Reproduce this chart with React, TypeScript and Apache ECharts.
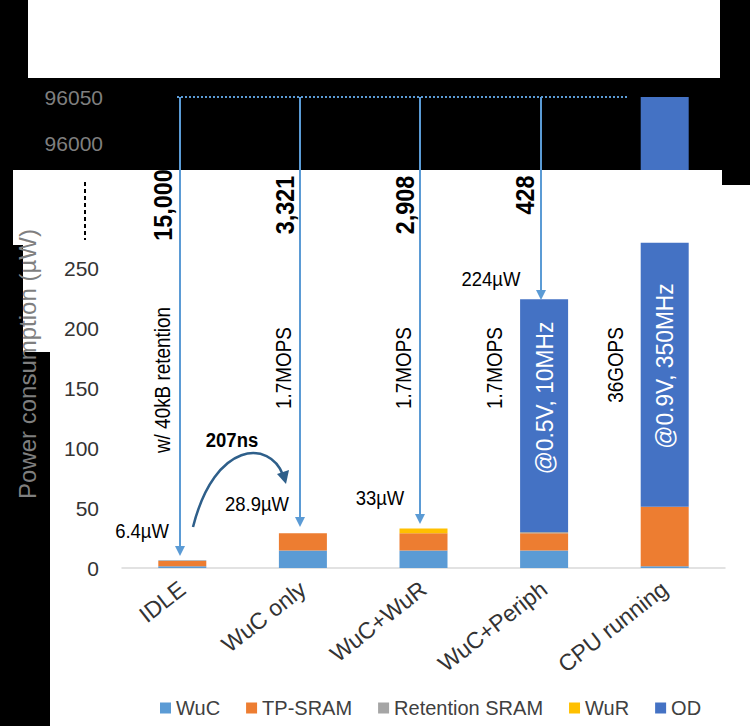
import { useRef, useEffect } from 'react';
import * as echarts from 'echarts';

const categories = ['IDLE', 'WuC only', 'WuC+WuR', 'WuC+Periph', 'CPU running'];
const wucValues = [1.5, 14.5, 14.5, 14.5, 1.5];
const tpSramValues = [4.4, 14.4, 14.4, 14.5, 49.5];
const retentionValues = [0.5, 0, 0, 1, 0];
const wurValues = [0, 0, 4.1, 0, 0];
const odValues = [0, 0, 0, 194, 220];
const odTopValues = [null, null, null, null, 96050];

const FONT = '"Liberation Sans", Arial, sans-serif';
const C = { wuc: '#5B9BD5', tp: '#ED7D31', ret: '#A5A5A5', wur: '#FFC000', od: '#4472C4' };

const vText = (x: number, y: number, text: string, opts: any = {}) => ({
  type: 'text',
  x,
  y,
  rotation: Math.PI / 2,
  scaleX: opts.scale || 0.9,
  z: 20,
  style: {
    text,
    fill: opts.fill || '#000',
    font: `${opts.bold ? 'bold ' : ''}${opts.size || 20}px ${FONT}`,
    align: 'center',
    verticalAlign: 'middle',
  },
});

const hText = (x: number, y: number, text: string, opts: any = {}) => ({
  type: 'text',
  x,
  y,
  scaleX: 0.88,
  z: 20,
  style: {
    text,
    fill: '#000',
    font: `${opts.bold ? 'bold ' : ''}${opts.size || 21}px ${FONT}`,
    align: 'center',
    verticalAlign: 'middle',
  },
});

const arrow = (x: number, y1: number, y2: number) => [
  { type: 'line', z: 20, shape: { x1: x, y1, x2: x, y2: y2 - 8 }, style: { stroke: C.wuc, lineWidth: 2 } },
  { type: 'polygon', z: 20, shape: { points: [[x - 5, y2 - 10], [x + 5, y2 - 10], [x, y2]] }, style: { fill: C.wuc } },
];

export default function App() {
  const chartRef = useRef<HTMLDivElement>(null);

  useEffect(() => {
    if (!chartRef.current) return;
    const chart = echarts.init(chartRef.current, undefined, { renderer: 'svg' });

    const bar = (name: string, data: any[], color: string) => ({
      name,
      type: 'bar',
      stack: 'total',
      barWidth: 48,
      data,
      z: 10,
      itemStyle: { color },
      xAxisIndex: 0,
      yAxisIndex: 0,
    });

    chart.setOption({
      animation: false,
      backgroundColor: '#000',
      grid: [
        { left: 122, right: 25, top: 232, bottom: 158 },
        { left: 122, right: 25, top: 97, height: 92 },
      ],
      xAxis: [
        {
          type: 'category',
          data: categories,
          gridIndex: 0,
          axisLine: { lineStyle: { color: '#d9d9d9', width: 1.5 } },
          axisTick: { show: false },
          axisLabel: { rotate: 38, fontSize: 23, color: '#333', fontFamily: FONT, margin: 18 },
        },
        { type: 'category', data: categories, gridIndex: 1, show: false },
      ],
      yAxis: [
        {
          type: 'value',
          gridIndex: 0,
          min: 0,
          max: 280,
          interval: 50,
          axisLabel: { showMaxLabel: false, fontSize: 21, color: '#333', fontFamily: FONT, margin: 23 },
          splitLine: { show: false },
        },
        {
          type: 'value',
          gridIndex: 1,
          min: 95950,
          max: 96050,
          interval: 50,
          axisLabel: {
            showMinLabel: false,
            fontSize: 21,
            color: '#7f7f7f',
            fontFamily: FONT,
            margin: 19,
            formatter: (v: number) => String(v),
          },
          splitLine: { show: false },
        },
      ],
      legend: {
        left: 155,
        top: 693,
        itemWidth: 11,
        itemHeight: 11,
        itemGap: 26,
        icon: 'rect',
        textStyle: { fontSize: 20, color: '#404040', fontFamily: FONT },
        data: ['WuC', 'TP-SRAM', 'Retention SRAM', 'WuR', 'OD'],
      },
      series: [
        bar('WuC', wucValues, C.wuc),
        bar('TP-SRAM', tpSramValues, C.tp),
        bar('Retention SRAM', retentionValues, C.ret),
        bar('WuR', wurValues, C.wur),
        bar('OD', odValues, C.od),
        {
          name: 'OD',
          type: 'bar',
          barWidth: 48,
          xAxisIndex: 1,
          yAxisIndex: 1,
          z: 1,
          data: odTopValues,
          itemStyle: { color: C.od },
        },
      ],
      graphic: [
        { type: 'rect', z: -10, shape: { x: 28, y: 0, width: 692, height: 78 }, style: { fill: '#fff' } },
        { type: 'rect', z: -10, shape: { x: 13, y: 170, width: 709, height: 20 }, style: { fill: '#fff' } },
        { type: 'rect', z: -10, shape: { x: 13, y: 185, width: 737, height: 60 }, style: { fill: '#fff' } },
        { type: 'rect', z: -10, shape: { x: 23, y: 242, width: 727, height: 110 }, style: { fill: '#fff' } },
        { type: 'rect', z: -10, shape: { x: 50, y: 348, width: 700, height: 378 }, style: { fill: '#fff' } },
        { type: 'rect', z: 5, shape: { x: 638, y: 170, width: 54, height: 25 }, style: { fill: '#fff' } },
        { type: 'text', x: 27, y: 364, rotation: Math.PI / 2, z: 20,
          style: { text: 'Power consumption (µW)', fill: '#7f7f7f', font: `24px ${FONT}`, align: 'center', verticalAlign: 'middle' } },
        { type: 'line', z: 20, shape: { x1: 85, y1: 182, x2: 85, y2: 240 }, style: { stroke: '#000', lineWidth: 2, lineDash: [4, 3] } },
        { type: 'line', z: 20, shape: { x1: 663, y1: 265, x2: 663, y2: 330 }, style: { stroke: C.od, lineWidth: 5, lineDash: [6, 6] } },
        { type: 'line', z: 20, shape: { x1: 177, y1: 97, x2: 628, y2: 97 }, style: { stroke: C.wuc, lineWidth: 2, lineDash: [2, 2] } },
        ...arrow(180, 97, 556),
        ...arrow(300, 97, 527),
        ...arrow(420, 97, 524),
        ...arrow(541, 97, 300),
        vText(163, 205, '15,000', { bold: true, size: 26 }),
        vText(285, 205, '3,321', { bold: true, size: 26 }),
        vText(405, 205, '2,908', { bold: true, size: 26 }),
        vText(525, 195, '428', { bold: true, size: 26 }),
        vText(162, 380, 'w/ 40kB retention', { size: 22, scale: 0.86 }),
        vText(283, 368, '1.7MOPS', { size: 22, scale: 0.86 }),
        vText(403, 368, '1.7MOPS', { size: 22, scale: 0.86 }),
        vText(494, 368, '1.7MOPS', { size: 22, scale: 0.86 }),
        vText(615, 365, '36GOPS', { size: 22, scale: 0.86 }),
        vText(545, 398, '@0.5V, 10MHz', { size: 24, fill: '#fff', scale: 0.95 }),
        vText(665, 366, '@0.9V, 350MHz', { size: 24, fill: '#fff', scale: 0.95 }),
        hText(491, 279, '224µW'),
        hText(142, 531, '6.4µW'),
        hText(257, 504, '28.9µW'),
        hText(380, 498, '33µW'),
        hText(232, 440, '207ns', { bold: true }),
        { type: 'bezierCurve', z: 20, shape: { x1: 193, y1: 527, cpx1: 215, cpy1: 440, cpx2: 270, cpy2: 440, x2: 283, y2: 475 },
          style: { stroke: '#2E5F8A', lineWidth: 2.5, fill: 'none' } },
        { type: 'polygon', z: 20, shape: { points: [[277, 474], [289, 470], [286, 484]] }, style: { fill: '#2E5F8A' } },
      ],
    });

    return () => chart.dispose();
  }, []);

  return <div ref={chartRef} style={{ position: 'fixed', left: 0, top: 0, width: 750, height: 726 }} />;
}
